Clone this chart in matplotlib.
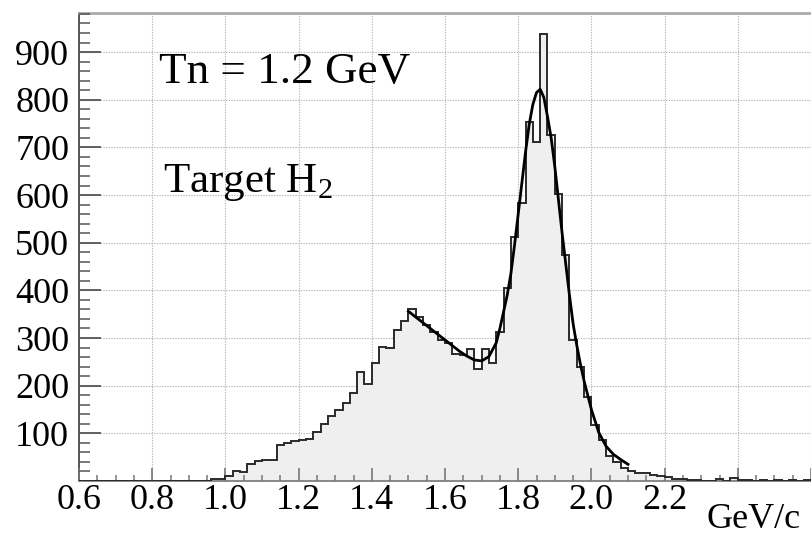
import matplotlib.pyplot as plt
import numpy as np

plt.rcParams['font.family'] = 'Liberation Serif'
plt.rcParams['mathtext.fontset'] = 'custom'
plt.rcParams['mathtext.rm'] = 'Liberation Serif'
plt.rcParams['axes.axisbelow'] = False

# histogram: 0.02 GeV/c bins from 0.6 to 2.6
bin_lo, bin_hi = 0.6, 2.6
counts = [0] * 18 + [
    4, 4, 10, 21, 18, 35, 43, 44, 44, 76,
    80, 84, 86, 88, 103, 119, 136, 148, 163, 184,
    229, 203, 247, 282, 280, 317, 336, 361, 345, 327,
    313, 296, 289, 266, 264, 278, 236, 276, 247, 313,
    404, 512, 584, 753, 711, 937, 725, 603, 474, 296,
    240, 177, 117, 87, 52, 40, 28, 22, 17, 16,
    12, 10, 8, 5, 4, 3, 3, 1, 0, 5,
    1, 6, 2, 2, 1, 3, 1, 2, 1, 3,
    1, 2,
]

# fitted curve
fit_x = [1.50, 1.52, 1.54, 1.56, 1.58, 1.60, 1.62, 1.64, 1.66, 1.68,
         1.70, 1.72, 1.74, 1.75, 1.76, 1.77, 1.78, 1.79, 1.80, 1.81,
         1.82, 1.83, 1.84, 1.85, 1.86, 1.87, 1.88, 1.89, 1.90, 1.91,
         1.92, 1.93, 1.94, 1.95, 1.96, 1.97, 1.98, 2.00, 2.02, 2.04,
         2.06, 2.08, 2.10]
fit_y = [356, 344, 332, 320, 308, 296, 284, 272, 262, 254,
         252, 261, 290, 320, 355, 390, 435, 495, 560, 625,
         690, 748, 790, 815, 822, 805, 765, 720, 660, 590,
         520, 455, 390, 330, 285, 245, 210, 150, 102, 73,
         56, 45, 35]

x_major = [0.6, 0.8, 1.0, 1.2, 1.4, 1.6, 1.8, 2.0, 2.2, 2.4, 2.6]
x_labels = ['0.6', '0.8', '1.0', '1.2', '1.4', '1.6', '1.8', '2.0', '2.2', '', '']
y_major = [100, 200, 300, 400, 500, 600, 700, 800, 900]
y_labels = ['100', '200', '300', '400', '500', '600', '700', '800', '900']

fig = plt.figure(figsize=(8.11, 5.37), dpi=100)
ax = fig.add_axes([79 / 811, 56 / 537, 1 - 79 / 811, 468 / 537])

edges = np.linspace(bin_lo, bin_hi, len(counts) + 1)
ax.stairs(counts, edges, fill=True, color='#efefef', zorder=1)
ax.stairs(counts, edges, color='#2a2a2a', lw=1.4, zorder=3)
ax.plot(fit_x, fit_y, color='black', lw=2.0, zorder=4)

# dotted grid kept under the grey fill
for v in x_major[1:]:
    ax.axvline(v, color='#b8b8b8', lw=0.8, ls=(0, (1.2, 1.2)), zorder=0.5)
for v in y_major:
    ax.axhline(v, color='#b8b8b8', lw=0.8, ls=(0, (1.2, 1.2)), zorder=0.5)

ax.set_xlim(0.6, 2.595)
ax.set_ylim(0, 982)

ax.set_xticks(x_major)
ax.set_xticklabels(x_labels)
ax.set_xticks(np.arange(0.65, 2.6, 0.05), minor=True)
ax.set_yticks(y_major)
ax.set_yticklabels(y_labels)
ax.set_yticks(np.arange(20, 981, 20), minor=True)

ax.tick_params(axis='y', which='major', direction='in', length=16, width=1.3,
               color='#555555', labelsize=26, pad=7)
ax.tick_params(axis='y', which='minor', direction='in', length=8, width=1.1,
               color='#555555')
ax.tick_params(axis='x', which='major', direction='in', length=9.5, width=1.2,
               color='#777777', labelsize=26, pad=2)
ax.tick_params(axis='x', which='minor', direction='in', length=4.5, width=1.1,
               color='#777777')

ax.spines['left'].set_color('#555555')
ax.spines['left'].set_linewidth(1.4)
ax.spines['bottom'].set_color('#888888')
ax.spines['bottom'].set_linewidth(1.4)
ax.spines['top'].set_color('#aaaaaa')
ax.spines['top'].set_linewidth(2.0)
ax.spines['right'].set_visible(False)

fig.text(159 / 811, (537 - 83) / 537, 'Tn = 1.2 GeV', fontsize=32.5, va='baseline')
fig.text(163 / 811, (537 - 192) / 537, r'Target H$_2$', fontsize=31, va='baseline')
fig.text(706 / 811, 9 / 537, 'GeV/c', fontsize=26, va='baseline')

fig.savefig('out.png', dpi=100)
